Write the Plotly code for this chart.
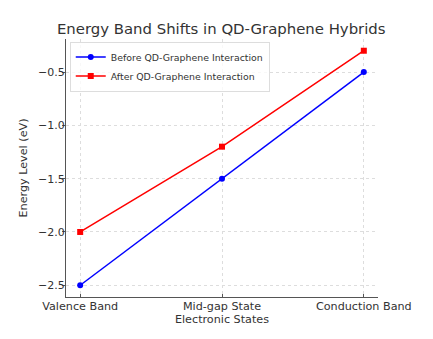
import plotly.graph_objects as go

categories = ["Valence Band", "Mid-gap State", "Conduction Band"]
before = [-2.5, -1.5, -0.5]
after = [-2.0, -1.2, -0.3]
y_ticks = [-2.5, -2.0, -1.5, -1.0, -0.5]

xs = list(range(len(categories)))
fig = go.Figure()
fig.add_trace(go.Scatter(x=xs, y=before, mode="lines+markers", name="Before QD-Graphene Interaction",
                         line=dict(color="blue", width=1.5), marker=dict(symbol="circle", size=6, color="blue")))
fig.add_trace(go.Scatter(x=xs, y=after, mode="lines+markers", name="After QD-Graphene Interaction",
                         line=dict(color="red", width=1.5), marker=dict(symbol="square", size=6, color="red")))

font = "DejaVu Sans"
fig.update_layout(
    width=433, height=339,
    margin=dict(l=66, r=55, t=39, b=42),
    paper_bgcolor="white", plot_bgcolor="white",
    font=dict(family=font, color="#333333", size=11.2),
    title=dict(text="Energy Band Shifts in QD-Graphene Hybrids", x=0.511, xanchor="center",
               y=0.915, yanchor="middle", font=dict(size=14.9, color="#333333")),
    showlegend=True,
    legend=dict(x=0.012, y=0.99, xanchor="left", yanchor="top", font=dict(size=9.4, color="#333333"),
                bgcolor="rgba(255,255,255,0.8)", bordercolor="#dddddd", borderwidth=1,
                itemwidth=30, tracegroupgap=0),
    xaxis=dict(range=[-0.1, 2.1], tickvals=xs, ticktext=categories,
               showline=True, linecolor="#555555", linewidth=1.2, mirror=False,
               ticks="inside", ticklen=3, tickcolor="#555555", ticklabelstandoff=-2,
               showgrid=True, gridcolor="#dddddd", griddash="dot", gridwidth=1,
               zeroline=False,
               title=dict(text="Electronic States", standoff=2, font=dict(size=11.2))),
    yaxis=dict(range=[-2.61, -0.19], tickvals=y_ticks, ticktext=["\u22122.5", "\u22122.0", "\u22121.5", "\u22121.0", "\u22120.5"],
               showline=True, linecolor="#555555", linewidth=1.2, mirror=False,
               ticks="outside", ticklen=3, tickcolor="#555555", ticklabelstandoff=-5,
               tickfont=dict(size=11),
               showgrid=True, gridcolor="#dddddd", griddash="dot", gridwidth=1,
               zeroline=False,
               title=dict(text="Energy Level (eV)", standoff=8, font=dict(size=11.2))),
)
fig.write_html("out.html")
